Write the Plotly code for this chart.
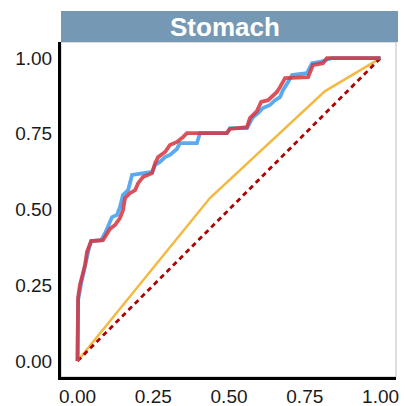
import plotly.graph_objects as go

panel_title = "Stomach"
tick_vals = [0, 0.25, 0.5, 0.75, 1.0]
tick_text = ["0.00", "0.25", "0.50", "0.75", "1.00"]

blue_fpr = [0, 0, 0.002, 0.012, 0.021, 0.028, 0.038, 0.045, 0.078, 0.091, 0.101, 0.114, 0.130,
            0.140, 0.150, 0.167, 0.180, 0.246, 0.256, 0.272, 0.289, 0.305, 0.328, 0.338, 0.394,
            0.404, 0.493, 0.503, 0.559, 0.569, 0.579, 0.596, 0.612, 0.635, 0.652, 0.668, 0.678,
            0.695, 0.708, 0.757, 0.774, 0.800, 0.840, 1.0]
blue_tpr = [0, 0.152, 0.201, 0.257, 0.300, 0.340, 0.373, 0.396, 0.399, 0.422, 0.442, 0.475, 0.482,
            0.508, 0.548, 0.564, 0.614, 0.624, 0.647, 0.657, 0.673, 0.680, 0.700, 0.719, 0.719,
            0.752, 0.752, 0.769, 0.769, 0.785, 0.805, 0.818, 0.835, 0.845, 0.861, 0.871, 0.894,
            0.921, 0.944, 0.950, 0.983, 0.987, 1.0, 1.0]

red_fpr = [0, 0, 0.002, 0.008, 0.015, 0.025, 0.031, 0.045, 0.084, 0.094, 0.107, 0.124, 0.140,
           0.150, 0.157, 0.173, 0.190, 0.200, 0.216, 0.246, 0.256, 0.266, 0.289, 0.305, 0.328,
           0.348, 0.361, 0.493, 0.503, 0.559, 0.569, 0.592, 0.606, 0.629, 0.642, 0.658, 0.668,
           0.685, 0.761, 0.777, 0.810, 0.823, 1.0]
red_tpr = [0, 0.168, 0.211, 0.251, 0.277, 0.317, 0.360, 0.396, 0.399, 0.413, 0.436, 0.449, 0.472,
           0.498, 0.538, 0.554, 0.564, 0.587, 0.607, 0.620, 0.653, 0.673, 0.690, 0.713, 0.723,
           0.739, 0.752, 0.752, 0.766, 0.772, 0.802, 0.825, 0.855, 0.861, 0.875, 0.888, 0.904,
           0.934, 0.937, 0.977, 0.983, 1.0, 1.0]

orange_fpr = [0, 0.437, 0.817, 1.0]
orange_tpr = [0, 0.538, 0.891, 1.0]

diag = [0, 1]

fig = go.Figure()
fig.add_trace(go.Scatter(x=orange_fpr, y=orange_tpr, mode="lines",
                         line=dict(color="#F4B942", width=2.5), showlegend=False))
fig.add_trace(go.Scatter(x=diag, y=diag, mode="lines",
                         line=dict(color="#B00000", width=2.8, dash="5px,4px"), showlegend=False))
fig.add_trace(go.Scatter(x=blue_fpr, y=blue_tpr, mode="lines",
                         line=dict(color="#5AAAF0", width=3.8), showlegend=False))
fig.add_trace(go.Scatter(x=red_fpr, y=red_tpr, mode="lines", opacity=0.85,
                         line=dict(color="#D6353F", width=3.8), showlegend=False))

axis_common = dict(
    showgrid=False, zeroline=False, showline=True, linecolor="black", linewidth=3,
    ticks="", tickvals=tick_vals, ticktext=tick_text, automargin=False,
    tickfont=dict(family="Liberation Sans, Arial", size=19, color="#1a1a1a"),
)
fig.update_xaxes(range=[-0.0545, 1.051], ticklabelstandoff=0, **axis_common)
fig.update_yaxes(range=[-0.0528, 1.053], ticklabelstandoff=2, **axis_common)

fig.add_shape(type="rect", xref="paper", yref="paper", x0=0, x1=1, y0=0, y1=1,
              line=dict(color="#BBBBBB", width=1), layer="below")
fig.add_shape(type="rect", xref="paper", yref="paper", x0=0, x1=1.006, y0=1.0, y1=1.0925,
              line=dict(width=0), fillcolor="#7599B4", layer="above")
fig.add_annotation(text="<b>" + panel_title + "</b>", xref="paper", yref="paper",
                   x=0.49, y=1.046, showarrow=False, xanchor="center", yanchor="middle",
                   font=dict(family="Liberation Sans, Arial", size=26, color="white"))

fig.update_layout(width=405, height=406, margin=dict(l=61, r=9, t=42, b=29),
                  plot_bgcolor="white", paper_bgcolor="white")
fig.write_html("out.html")
